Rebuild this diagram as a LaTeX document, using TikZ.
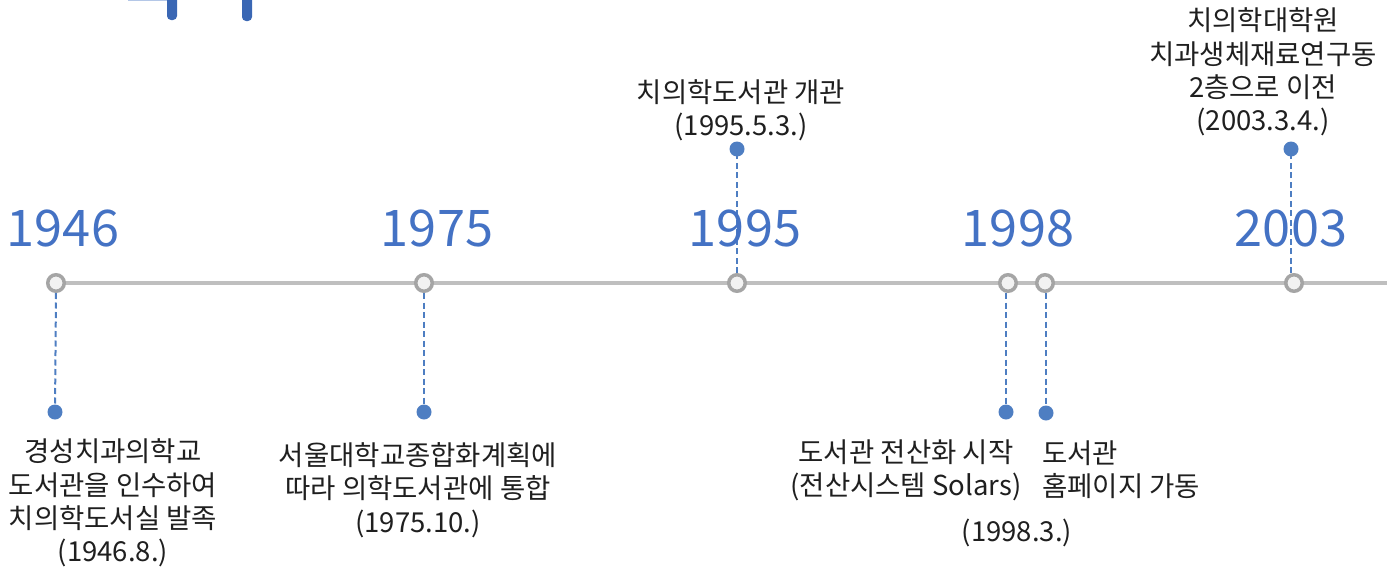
\documentclass[tikz,border=0pt]{standalone}
\usepackage{fontspec}
\setmainfont{Noto Sans CJK KR}
\newfontfamily\yearfont{Noto Sans CJK KR}
\definecolor{yearblue}{HTML}{4472C4}
\definecolor{dotblue}{HTML}{4E7EC2}
\definecolor{lineg}{HTML}{BFBFBF}
\definecolor{ringg}{HTML}{A5A5A5}
\definecolor{ringf}{HTML}{F2F2F2}
\definecolor{titleblue}{HTML}{3A67B4}
\definecolor{lightblue}{HTML}{B4C7E7}
\tikzset{
  ring/.style={circle, draw=ringg, fill=ringf, line width=3.5pt, minimum size=16.5pt, inner sep=0pt},
  bdot/.style={circle, fill=dotblue, minimum size=15pt, inner sep=0pt},
  conn/.style={draw=dotblue, line width=2pt, dash pattern=on 6pt off 3.5pt},
  yearlbl/.style={text=yearblue, font=\yearfont\fontsize{50.5}{60}\selectfont, inner sep=0pt},
  evt/.style={text=black!88, font=\fontsize{27.5}{33.3}\selectfont, align=center, inner sep=0pt},
  tline/.style={draw=lineg, line width=4pt}
}
\begin{document}
\begin{tikzpicture}[x=1pt,y=-1pt]
\useasboundingbox (0,0) rectangle (1387,570);
% partial title shapes
\draw[lightblue, line width=1.5pt] (128,0.5) -- (167,0.5);
\fill[titleblue, rounded corners=4pt] (167,-10) rectangle (177,20);
\fill[titleblue, rounded corners=4pt] (242,-10) rectangle (252,21);
% timeline
\coordinate (tend) at (1387,283);
\coordinate (tstart) at (56,283);
\draw[tline] (tstart) -- (tend);
\node[ring] (r1) at (56,283) {};
\node[ring] (r2) at (424,283) {};
\node[ring] (r3) at (737,283) {};
\node[ring] (r4) at (1008,283) {};
\node[ring] (r5) at (1045,283) {};
\node[ring] (r6) at (1294,283) {};
% dots
\node[bdot] (d1) at (55,412) {};
\node[bdot] (d2) at (424,412) {};
\node[bdot] (d3) at (737,149) {};
\node[bdot] (d4) at (1006,412) {};
\node[bdot] (d5) at (1046,413) {};
\node[bdot] (d6) at (1291,149) {};
\draw[conn] (r1.south) -- (d1.center);
\draw[conn] (r2.south) -- (d2.center);
\draw[conn] (r3.north) -- (d3.center);
\draw[conn] (r4.south -| d4) -- (d4.center);
\draw[conn] (r5.south -| d5) -- (d5.center);
\draw[conn] (r6.north -| d6) -- (d6.center);
% years
\node[yearlbl] (y1) at (63,228) {1946};
\node[yearlbl] (y2) at (437,228) {1975};
\node[yearlbl] (y3) at (745,228) {1995};
\node[yearlbl] (y4) at (1018,228) {1998};
\node[yearlbl] (y5) at (1291,228) {2003};
% events
\node[evt] (e1) at (113,503) {경성치과의학교\\도서관을 인수하여\\치의학도서실 발족\\(1946.8.)};
\node[evt] (e2) at (418,490) {서울대학교종합화계획에\\따라 의학도서관에 통합\\(1975.10.)};
\node[evt] (e3) at (741,110) {치의학도서관 개관\\(1995.5.3.)};
\node[evt] (e4) at (906,470) {도서관 전산화 시작\\(전산시스템 Solars)};
\node[evt, align=left, anchor=west] (e5) at (1042,470) {도서관\\홈페이지 가동};
\node[evt] (e6) at (1017,533) {(1998.3.)};
\node[evt] (e7) at (1263,72) {치의학대학원\\치과생체재료연구동\\2층으로 이전\\(2003.3.4.)};
\end{tikzpicture}
\end{document}
